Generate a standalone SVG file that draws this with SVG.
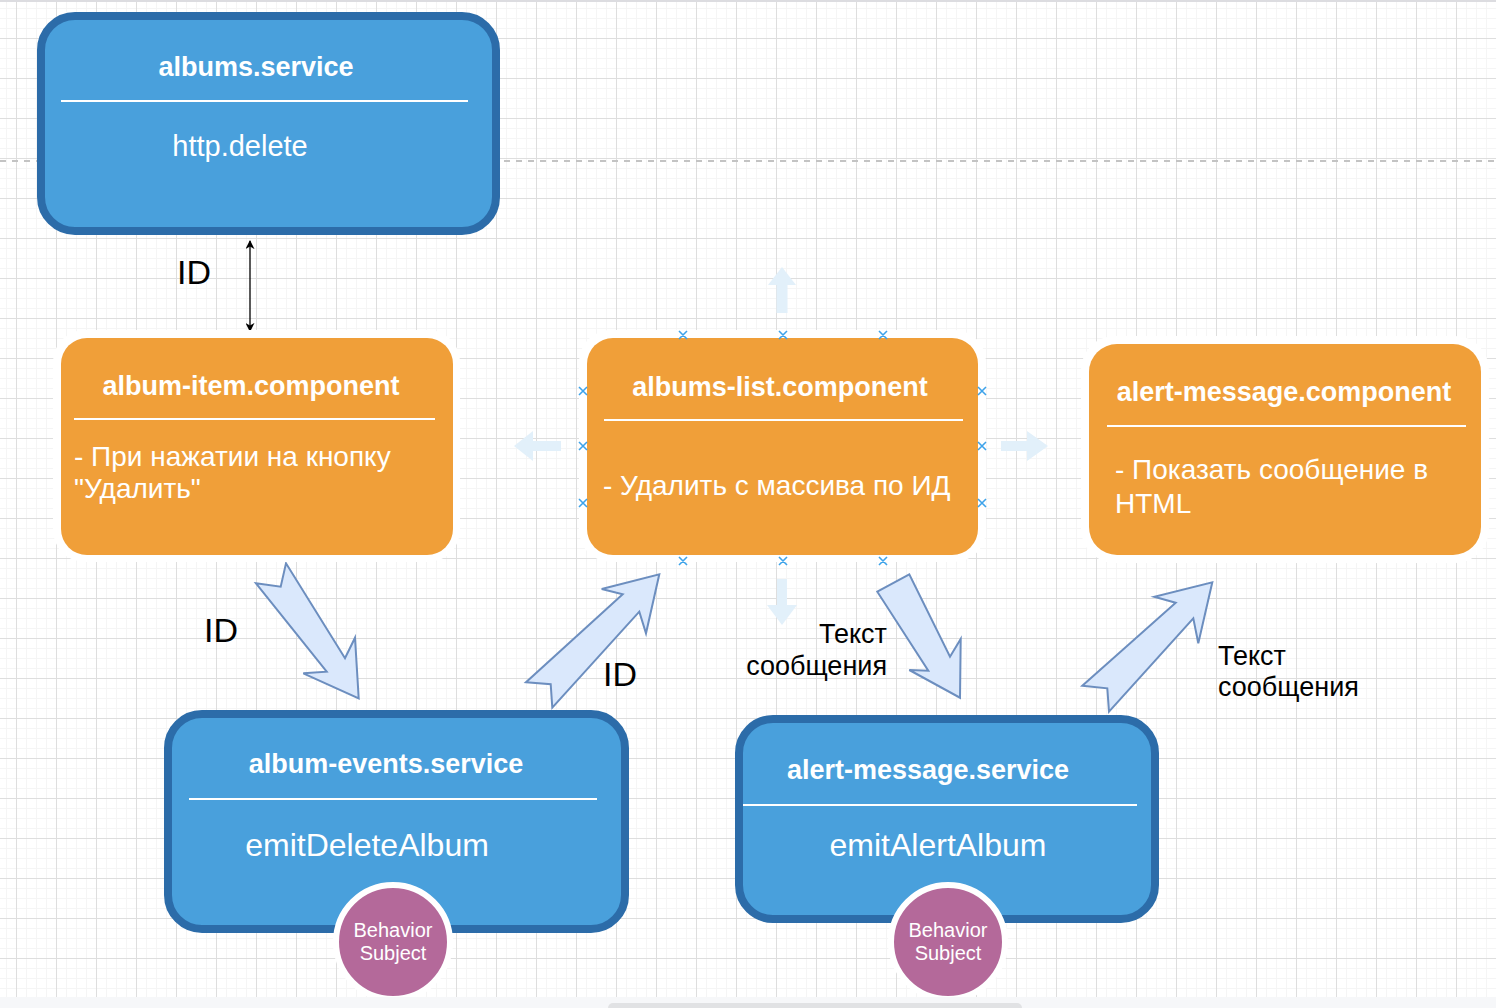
<svg xmlns="http://www.w3.org/2000/svg" width="1496" height="1008" viewBox="0 0 1496 1008">
<style>
.t{font-family:"Liberation Sans",Arial,sans-serif;fill:#fff}
.b{font-weight:bold;font-size:27px}
.c{text-anchor:middle}
.body{font-size:28px}
.lbl{font-family:"Liberation Sans",Arial,sans-serif;fill:#000}
.svc{fill:#49a0dc;stroke:#2c6ca9;stroke-width:8}
.cmp{fill:#f09f39}
.halo{fill:#fff}
.sep{stroke:#fff;stroke-width:2}
.bs{fill:#b4699a;stroke:#fff;stroke-width:6}
.blk{fill:#dae8fc;stroke:#6c8ebf;stroke-width:2;stroke-linejoin:miter}
.hnd{stroke:#3ea3ea;stroke-width:1.6;fill:none}
.hov{fill:#e2f0fa}
</style>
<defs>
<pattern id="grid" x="16" y="38" width="40" height="40" patternUnits="userSpaceOnUse">
<path d="M10.5 0V40M20.5 0V40M30.5 0V40M0 10.5H40M0 20.5H40M0 30.5H40" stroke="#f5f5f5" stroke-width="1"/>
<path d="M0.5 0V40M0 0.5H40" stroke="#dedede" stroke-width="1"/>
</pattern>
<marker id="ah" viewBox="0 0 10 10" refX="9" refY="5" markerWidth="9" markerHeight="9" markerUnits="userSpaceOnUse" orient="auto-start-reverse">
<path d="M0 0L10 5L0 10L3 5Z" fill="#000"/>
</marker>
</defs>
<rect x="0" y="0" width="1496" height="1008" fill="#fff"/>
<rect x="0" y="2" width="1496" height="995" fill="url(#grid)"/>
<rect x="0" y="0" width="1496" height="2" fill="#dcdce0"/>
<line x1="0" y1="161" x2="1496" y2="161" stroke="#c3c3c3" stroke-width="2" stroke-dasharray="6 6"/>

<g id="connectors">
<line x1="250" y1="241" x2="250" y2="331" stroke="#000" stroke-width="1.3" marker-start="url(#ah)" marker-end="url(#ah)"/>
<polygon class="blk" points="256,583.3 280.7,586.7 286,563.3 345,658.3 355,637.7 358.7,698.3 303.3,673.3 326.7,671.7"/>
<polygon class="blk" points="526,682.3 550.7,684.3 552.3,707.7 639.3,611.7 646,633.3 659.3,574.3 601.7,589 622.7,594.3"/>
<polygon class="blk" points="877.3,591.7 909.3,574.3 950,656.7 960.7,639 960,697.7 909.3,670 928.3,670.7"/>
<polygon class="blk" points="1082.3,685.7 1107.3,688.3 1109,711.7 1193.3,618.3 1198.3,643.3 1212.3,582.3 1154.3,596.7 1175.7,602.7"/>
<text class="lbl" x="177" y="284" font-size="34">ID</text>
<text class="lbl" x="204" y="642" font-size="34">ID</text>
<text class="lbl" x="603" y="686" font-size="34">ID</text>
<text class="lbl" x="887" y="643" font-size="27" text-anchor="end">Текст</text>
<text class="lbl" x="887" y="675" font-size="27" text-anchor="end">сообщения</text>
<text class="lbl" x="1218" y="665" font-size="27">Текст</text>
<text class="lbl" x="1218" y="696" font-size="27">сообщения</text>
</g>

<g id="albums-service">
<rect class="svc" x="41" y="16" width="455" height="215" rx="34"/>
<text class="t b c" x="256" y="76">albums.service</text>
<line class="sep" x1="61" y1="101" x2="468" y2="101"/>
<text class="t c" x="240" y="156" font-size="29">http.delete</text>
</g>

<g id="album-item-component">
<rect class="halo" x="53" y="330" width="407" height="232" rx="32"/>
<rect class="cmp" x="61" y="338" width="392" height="217" rx="26"/>
<text class="t b c" x="251" y="395">album-item.component</text>
<line class="sep" x1="74" y1="419" x2="435" y2="419"/>
<text class="t body" x="74" y="466">- При нажатии на кнопку</text>
<text class="t body" x="74" y="498">"Удалить"</text>
</g>

<g id="albums-list-component">
<rect class="halo" x="579" y="330" width="407" height="232" rx="32"/>
<rect class="cmp" x="587" y="338" width="391" height="217" rx="26"/>
<text class="t b c" x="780" y="396">albums-list.component</text>
<line class="sep" x1="604" y1="420" x2="963" y2="420"/>
<text class="t body" x="603" y="495">- Удалить с массива по ИД</text>
<g class="hnd">
<path d="M679 331l8 8M687 331l-8 8M779 331l8 8M787 331l-8 8M879 331l8 8M887 331l-8 8"/>
<path d="M679 557l8 8M687 557l-8 8M779 557l8 8M787 557l-8 8M879 557l8 8M887 557l-8 8"/>
<path d="M579 387l8 8M587 387l-8 8M579 442l8 8M587 442l-8 8M579 499l8 8M587 499l-8 8"/>
<path d="M978 387l8 8M986 387l-8 8M978 442l8 8M986 442l-8 8M978 499l8 8M986 499l-8 8"/>
</g>
<polygon class="hov" points="782,267 796,285 787.5,285 787.5,313 776.5,313 776.5,285 768,285"/>
<polygon class="hov" points="782,625 797,605 787,605 787,579 777,579 777,605 767,605"/>
<polygon class="hov" points="514,446 533,431 533,441 561,441 561,451 533,451 533,461"/>
<polygon class="hov" points="1048,446 1027,431 1027,441 1001,441 1001,451 1027,451 1027,461"/>
</g>

<g id="alert-message-component">
<rect class="halo" x="1081" y="336" width="408" height="227" rx="34"/>
<rect class="cmp" x="1089" y="344" width="392" height="211" rx="28"/>
<text class="t b c" x="1284" y="401">alert-message.component</text>
<line class="sep" x1="1107" y1="426" x2="1466" y2="426"/>
<text class="t body" x="1115" y="479">- Показать сообщение в</text>
<text class="t body" x="1115" y="513">HTML</text>
</g>

<g id="album-events-service">
<rect class="svc" x="168" y="714" width="457" height="215" rx="34"/>
<text class="t b c" x="386" y="773">album-events.service</text>
<line class="sep" x1="189" y1="799" x2="597" y2="799"/>
<text class="t c" x="367" y="856" font-size="32">emitDeleteAlbum</text>
</g>

<g id="album-events-behavior-subject">
<circle class="bs" cx="393" cy="942" r="57"/>
<text class="t c" x="393" y="937" font-size="20">Behavior</text>
<text class="t c" x="393" y="960" font-size="20">Subject</text>
</g>

<g id="alert-message-service">
<rect class="svc" x="739" y="719" width="416" height="200" rx="34"/>
<text class="t b c" x="928" y="779">alert-message.service</text>
<line class="sep" x1="743" y1="805" x2="1137" y2="805"/>
<text class="t c" x="938" y="856" font-size="32">emitAlertAlbum</text>
</g>

<g id="alert-message-behavior-subject">
<circle class="bs" cx="948" cy="942" r="57"/>
<text class="t c" x="948" y="937" font-size="20">Behavior</text>
<text class="t c" x="948" y="960" font-size="20">Subject</text>
</g>

<rect x="0" y="997" width="1496" height="11" fill="#f6f7f9"/>
<rect x="608" y="1003" width="414" height="10" rx="5" fill="#e1e2e4"/>
</svg>
